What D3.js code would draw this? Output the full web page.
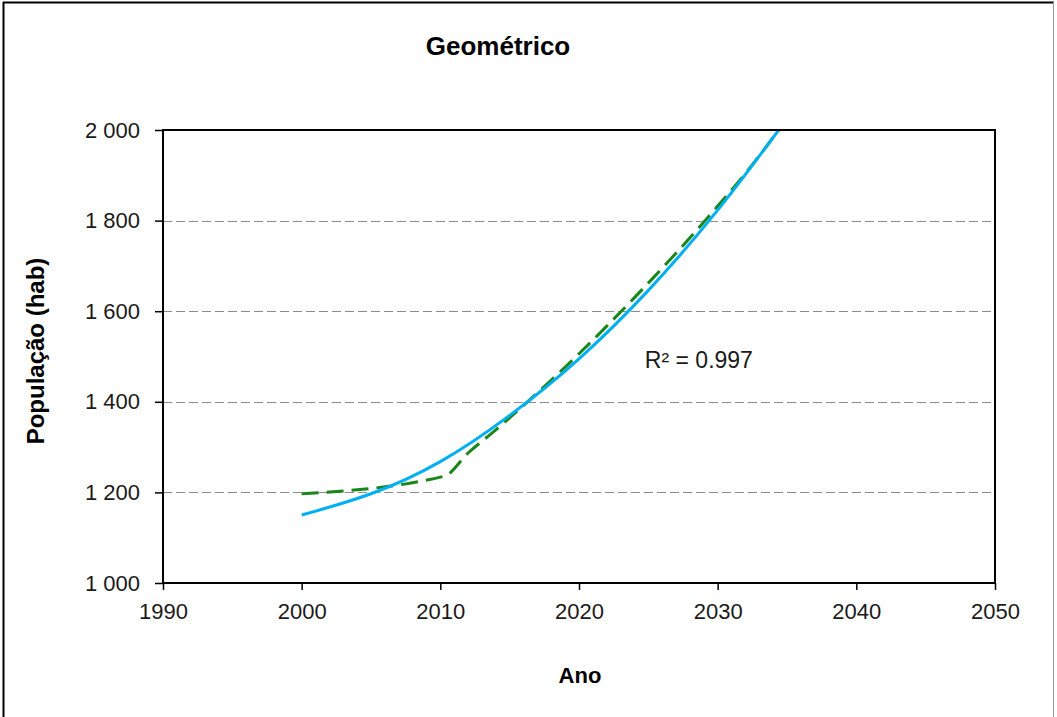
<!DOCTYPE html>
<html>
<head>
<meta charset="utf-8">
<script src="https://cdn.jsdelivr.net/npm/d3@7"></script>
<style>
  body { margin: 0; background: #fff; }
  svg { display: block; font-family: "Liberation Sans", Arial, sans-serif; }
</style>
</head>
<body>
<div id="chart"></div>
<script>
// data
var xTicks = [1990, 2000, 2010, 2020, 2030, 2040, 2050];
var yTicks = [1000, 1200, 1400, 1600, 1800, 2000];
var gridValues = [1200, 1400, 1600, 1800];

// projected population (green dashed)
var projYears = [2000, 2010.3, 2012, 2014, 2016, 2018, 2020, 2022, 2024, 2026, 2028, 2030, 2032, 2034.4];
var projPop   = [1197, 1236, 1287, 1338, 1392, 1448, 1506, 1567, 1630, 1695, 1762, 1832, 1904, 2000];

// trendline (blue)
var trendYears = [2000, 2005, 2010, 2015, 2020, 2025, 2030, 2034.4];
var trendPop   = [1150, 1197, 1268, 1370, 1495, 1646, 1823, 2000];

var titleText = "Geométrico";
var xLabel = "Ano";
var yLabel = "População (hab)";
var r2Text = "R² = 0.997";

var W = 1057, H = 717;
var margin = {left: 163, top: 130, right: 62, bottom: 134};
var width = W - margin.left - margin.right;
var height = H - margin.top - margin.bottom;

var svg = d3.select("#chart").append("svg")
    .attr("width", W)
    .attr("height", H);

// outer frame
svg.append("line").attr("x1", 3).attr("x2", 1054).attr("y1", 2.5).attr("y2", 2.5)
    .attr("stroke", "#000").attr("stroke-width", 2);
svg.append("line").attr("x1", 3.5).attr("x2", 3.5).attr("y1", 2).attr("y2", H)
    .attr("stroke", "#000").attr("stroke-width", 2);
svg.append("line").attr("x1", 1053.5).attr("x2", 1053.5).attr("y1", 2).attr("y2", H)
    .attr("stroke", "#999").attr("stroke-width", 1);

var g = svg.append("g")
    .attr("transform", "translate(" + margin.left + "," + margin.top + ")");

var x = d3.scaleLinear().domain([1990, 2050]).range([0, width]);
var y = d3.scaleLinear().domain([1000, 2000]).range([height, 0]);

var loc = d3.formatLocale({decimal: ".", thousands: " ", grouping: [3], currency: ["", ""]});
var yFmt = loc.format(",");

g.append("defs").append("clipPath").attr("id", "clip")
    .append("rect").attr("width", width).attr("height", height);

// gridlines
g.selectAll(".grid")
    .data(gridValues)
    .enter().append("line")
    .attr("x1", 0).attr("x2", width)
    .attr("y1", function(d) { return Math.round(y(d)) + 0.5; })
    .attr("y2", function(d) { return Math.round(y(d)) + 0.5; })
    .attr("stroke", "#8c8c8c")
    .attr("stroke-width", 1.2)
    .attr("stroke-dasharray", "9,4");

// axes
var yAxis = g.append("g")
    .call(d3.axisLeft(y).tickValues(yTicks).tickSize(8).tickPadding(15).tickFormat(yFmt));
var xAxis = g.append("g")
    .attr("transform", "translate(0," + height + ")")
    .call(d3.axisBottom(x).tickValues(xTicks).tickSize(7).tickPadding(13).tickFormat(d3.format("d")));

[xAxis, yAxis].forEach(function(a) {
    a.select(".domain").remove();
    a.selectAll(".tick line").attr("stroke", "#000").attr("stroke-width", 1.5);
    a.selectAll(".tick text").attr("fill", "#1a1a1a").style("font-size", "22px")
        .style("font-family", "'Liberation Sans', Arial, sans-serif");
});

var lines = g.append("g").attr("clip-path", "url(#clip)");

var projData = projYears.map(function(d, i) { return {x: d, y: projPop[i]}; });
var trendData = trendYears.map(function(d, i) { return {x: d, y: trendPop[i]}; });

var line = d3.line()
    .x(function(d) { return x(d.x); })
    .y(function(d) { return y(d.y); })
    .curve(d3.curveMonotoneX);

lines.append("path")
    .datum(projData)
    .attr("fill", "none")
    .attr("stroke", "#1a861a")
    .attr("stroke-width", 3)
    .attr("stroke-dasharray", "17,8")
    .attr("d", line);

lines.append("path")
    .datum(trendData)
    .attr("fill", "none")
    .attr("stroke", "#00b0f0")
    .attr("stroke-width", 3)
    .attr("d", line.curve(d3.curveNatural));

// plot border
g.append("rect")
    .attr("width", width).attr("height", height)
    .attr("fill", "none")
    .attr("stroke", "#000")
    .attr("stroke-width", 2);

// texts
svg.append("text")
    .attr("x", 498).attr("y", 55)
    .attr("text-anchor", "middle")
    .style("font-size", "26px").style("font-weight", "bold")
    .text(titleText);

svg.append("text")
    .attr("x", 580).attr("y", 683)
    .attr("text-anchor", "middle")
    .style("font-size", "22px").style("font-weight", "bold")
    .text(xLabel);

svg.append("text")
    .attr("transform", "translate(44,351) rotate(-90)")
    .attr("text-anchor", "middle")
    .style("font-size", "24px").style("font-weight", "bold")
    .text(yLabel);

g.append("text")
    .attr("x", x(2024.75)).attr("y", 368 - margin.top)
    .attr("fill", "#1a1a1a")
    .style("font-size", "23px")
    .text(r2Text);
</script>
</body>
</html>
